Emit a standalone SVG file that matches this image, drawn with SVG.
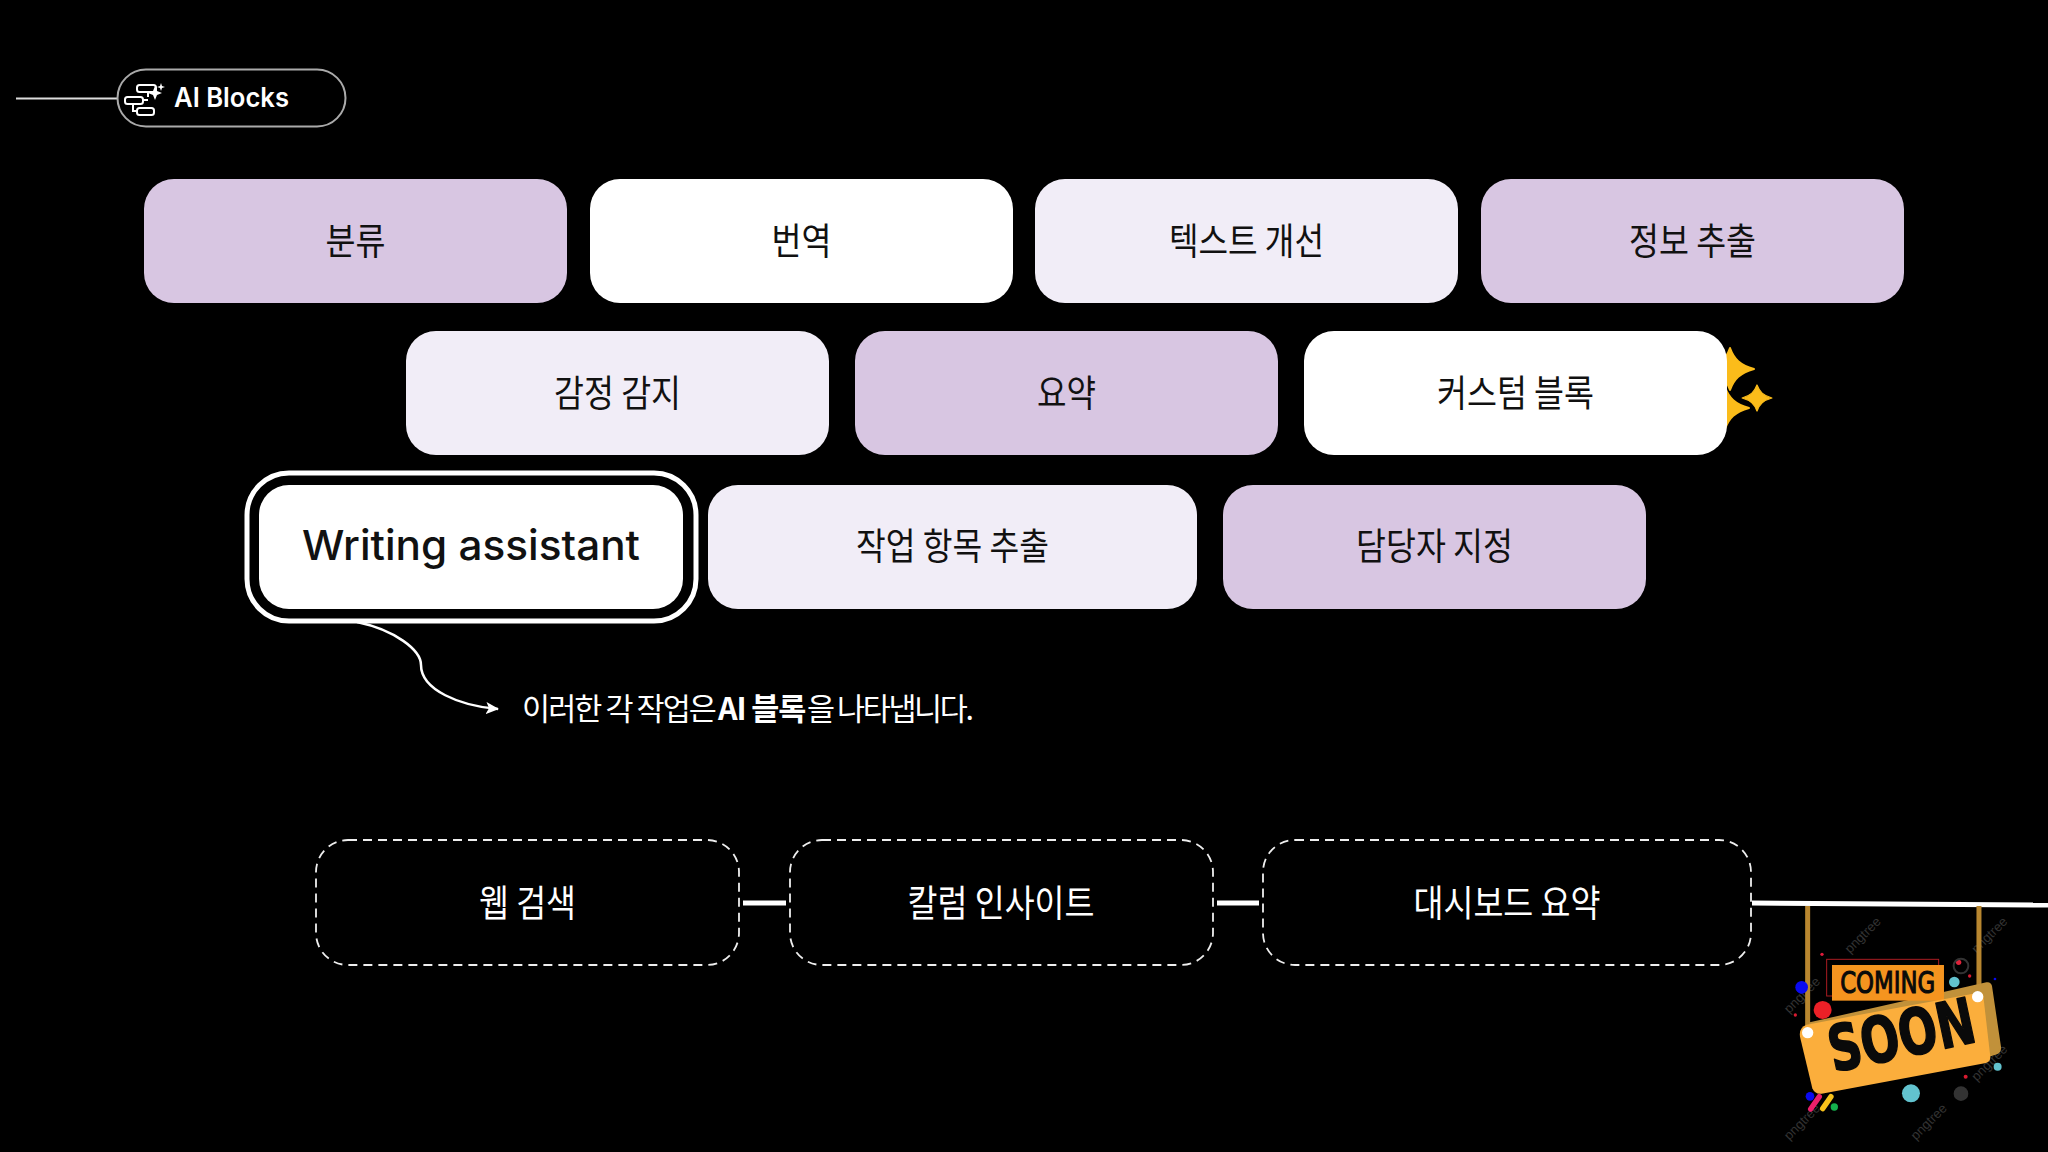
<svg xmlns="http://www.w3.org/2000/svg" width="2048" height="1152" viewBox="0 0 2048 1152">
<defs>
<marker id="arr" markerWidth="13" markerHeight="12" refX="12" refY="6" orient="auto" markerUnits="userSpaceOnUse"><path d="M0 0L13 6L0 12L3 6Z" fill="#fff"/></marker>
<path id="star" d="M0 -21C4 -10 10 -4 24 0C10 4 4 10 0 21C-4 10 -10 4 -24 0C-10 -4 -4 -10 0 -21Z" fill="#fbbc1a" stroke="#fbbc1a" stroke-width="2" stroke-linejoin="round"/>
</defs>
<style>
text{font-family:"Noto Sans CJK KR","Noto Sans",sans-serif}
.b{font-size:37px;fill:#111;text-anchor:middle}
.w{font-size:37px;fill:#fff;text-anchor:middle}
.n{font-size:30.500px;fill:#fff}
.p{fill:#d8c6e2}.l{fill:#f1edf7}.h{fill:#fff}
.d{fill:none;stroke:#eee;stroke-width:1.800;stroke-dasharray:9 6}
.c{stroke:#fff;stroke-width:5;fill:none}
.wm{font-family:"Liberation Sans",sans-serif;font-size:12px;fill:#333}
</style>
<rect width="2048" height="1152" fill="#000"/>

<g id="connectors">
<path d="M16 98.500H117" stroke="#ddd" stroke-width="2" fill="none"/>
<path d="M357 622C395 630 421 650 421 665C421 690 460 706 498 709" stroke="#fff" stroke-width="2.500" fill="none" marker-end="url(#arr)"/>
<path class="c" d="M743 903H786"/>
<path class="c" d="M1217 903H1259"/>
<path class="c" d="M1752 903L2048 905"/>
</g>

<g id="ai-blocks">
<rect x="117.500" y="69.500" width="228" height="57" rx="28.500" fill="#000" stroke="#aaa" stroke-width="2"/>
<g fill="none" stroke="#fff" stroke-width="2">
<rect x="137" y="85" width="19" height="7" rx="2.500"/><rect x="125" y="97" width="18" height="7" rx="2.500"/><rect x="137" y="108" width="17" height="7" rx="2.500"/>
<path d="M148 92V97M143 100H148M133 104V111H137"/></g>
<path d="M155 86l2 5 5 2-5 2-2 5-2-5-5-2 5-2ZM161 83l1 3 3 1-3 1-1 3-1-3-3-1 3-1Z" fill="#fff"/>
<text x="174" y="107" style="font-family:Inter,sans-serif;font-size:27px;font-weight:600;fill:#fff" textLength="115" lengthAdjust="spacingAndGlyphs">AI Blocks</text>
</g>

<g id="n1"><rect class="p" x="144" y="179" width="423" height="124" rx="30"/><text class="b" x="355.500" y="255" textLength="60" lengthAdjust="spacingAndGlyphs">분류</text></g>
<g id="n2"><rect class="h" x="590" y="179" width="423" height="124" rx="30"/><text class="b" x="801.500" y="255" textLength="60" lengthAdjust="spacingAndGlyphs">번역</text></g>
<g id="n3"><rect class="l" x="1035" y="179" width="423" height="124" rx="30"/><text class="b" x="1246.500" y="255" textLength="155" lengthAdjust="spacingAndGlyphs">텍스트 개선</text></g>
<g id="n4"><rect class="p" x="1481" y="179" width="423" height="124" rx="30"/><text class="b" x="1692.500" y="255" textLength="127" lengthAdjust="spacingAndGlyphs">정보 추출</text></g>

<g id="sparkles">
<use href="#star" x="1730" y="369"/><use href="#star" transform="translate(1757 398) scale(.62)"/><use href="#star" x="1725" y="408"/>
</g>
<g id="n5"><rect class="l" x="406" y="331" width="423" height="124" rx="30"/><text class="b" x="617.500" y="407" textLength="127" lengthAdjust="spacingAndGlyphs">감정 감지</text></g>
<g id="n6"><rect class="p" x="855" y="331" width="423" height="124" rx="30"/><text class="b" x="1066.500" y="407" textLength="59" lengthAdjust="spacingAndGlyphs">요약</text></g>
<g id="n7"><rect class="h" x="1304" y="331" width="423" height="124" rx="30"/><text class="b" x="1515.500" y="407" textLength="157" lengthAdjust="spacingAndGlyphs">커스텀 블록</text></g>

<g id="n8"><rect x="247" y="473" width="449" height="148" rx="42" fill="#000" stroke="#fff" stroke-width="5"/><rect class="h" x="259" y="485" width="424" height="124" rx="30"/><text x="471" y="560" style="font-family:Inter,sans-serif;font-size:41px;font-weight:500;fill:#111;text-anchor:middle" textLength="338" lengthAdjust="spacingAndGlyphs">Writing assistant</text></g>
<g id="n9"><rect class="l" x="708" y="485" width="489" height="124" rx="30"/><text class="b" x="952.500" y="560" textLength="193" lengthAdjust="spacingAndGlyphs">작업 항목 추출</text></g>
<g id="n10"><rect class="p" x="1223" y="485" width="423" height="124" rx="30"/><text class="b" x="1434.500" y="560" textLength="157" lengthAdjust="spacingAndGlyphs">담당자 지정</text></g>

<g id="note">
<text class="n" x="522" y="720" letter-spacing="-1.900">이러한 각 작업은</text>
<text class="n" x="718" y="720" font-weight="700" letter-spacing="-1.100">AI 블록</text>
<text class="n" x="807" y="720" letter-spacing="-2.400">을 나타냅니다.</text>
</g>

<g id="n11"><rect class="d" x="316" y="840" width="423" height="125" rx="32"/><text class="w" x="527.500" y="917" textLength="97" lengthAdjust="spacingAndGlyphs">웹 검색</text></g>
<g id="n12"><rect class="d" x="790" y="840" width="423" height="125" rx="32"/><text class="w" x="1001" y="917" textLength="187" lengthAdjust="spacingAndGlyphs">칼럼 인사이트</text></g>
<g id="n13"><rect class="d" x="1263" y="840" width="488" height="125" rx="32"/><text class="w" x="1507" y="917" textLength="187" lengthAdjust="spacingAndGlyphs">대시보드 요약</text></g>

<g id="coming-soon" transform="translate(1700 880) scale(.3333)">
<g>
<text class="wm" transform="translate(450 222) rotate(-45) scale(3.300)">pngtree</text>
<text class="wm" transform="translate(830 222) rotate(-45) scale(3.300)">pngtree</text>
<text class="wm" transform="translate(268 402) rotate(-45) scale(3.300)">pngtree</text>
<text class="wm" transform="translate(830 605) rotate(-45) scale(3.300)">pngtree</text>
<text class="wm" transform="translate(268 782) rotate(-45) scale(3.300)">pngtree</text>
<text class="wm" transform="translate(648 782) rotate(-45) scale(3.300)">pngtree</text>
</g>
<path d="M323 78V440M837 78V350" stroke="#b8862f" stroke-width="15" fill="none"/>
<circle cx="305" cy="322" r="19" fill="#0a0af0"/><circle cx="366" cy="223" r="5" fill="#e01b3c"/><circle cx="286" cy="405" r="5" fill="#d81b30"/>
<circle cx="776" cy="247" r="8" fill="#e0223a"/><circle cx="809" cy="288" r="5" fill="#d81b30"/><circle cx="885" cy="297" r="4" fill="#0a0af0"/><circle cx="763" cy="306" r="16" fill="#62c3cf"/>
<rect x="380" y="238" width="336" height="110" fill="none" stroke="#a81c22" stroke-width="3"/>
<path d="M330 430L860 310Q870 308 873 318L900 500Q902 515 890 520L860 530Z" fill="#c1913a" stroke="#c1913a" stroke-width="6" stroke-linejoin="round"/>
<rect x="396" y="255" width="336" height="107" fill="#f5941f"/>
<text x="563" y="340" stroke="#0a0a0a" stroke-width="3.500" style="font-family:'DejaVu Sans',sans-serif;font-size:90px;font-weight:400;fill:#0a0a0a;text-anchor:middle" textLength="285" lengthAdjust="spacingAndGlyphs">COMING</text>
<circle cx="368" cy="390" r="27" fill="#ec2027"/>
<path d="M320 434L836 338Q848 336 850 348L871 530Q872 545 858 549L365 641Q345 644 337 625L300 470Q296 442 320 434Z" fill="#fbae3c"/>
<text transform="translate(603 460) rotate(-12)" y="72" stroke="#0a0a0a" stroke-width="5" stroke-linejoin="round" style="font-family:'DejaVu Sans',sans-serif;font-size:190px;font-weight:700;fill:#0a0a0a;text-anchor:middle" textLength="445" lengthAdjust="spacingAndGlyphs">SOON</text>
<circle cx="323" cy="458" r="17" fill="#fff"/><circle cx="833" cy="350" r="17" fill="#fff"/>
<circle cx="633" cy="640" r="27" fill="#62c3cf"/><circle cx="893" cy="560" r="12" fill="#62c3cf"/><circle cx="797" cy="590" r="6" fill="#d81b30"/>
<circle cx="330" cy="649" r="13" fill="#0a0af0"/><circle cx="403" cy="681" r="11" fill="#14b04c"/>
<path d="M332 687L358 650" stroke="#ec1f6a" stroke-width="16" stroke-linecap="round"/><path d="M368 686L393 650" stroke="#f7c11a" stroke-width="16" stroke-linecap="round"/>
<circle cx="783" cy="641" r="22" fill="#333"/><circle cx="783" cy="258" r="22" fill="none" stroke="#333" stroke-width="6"/>
</g>
</svg>
